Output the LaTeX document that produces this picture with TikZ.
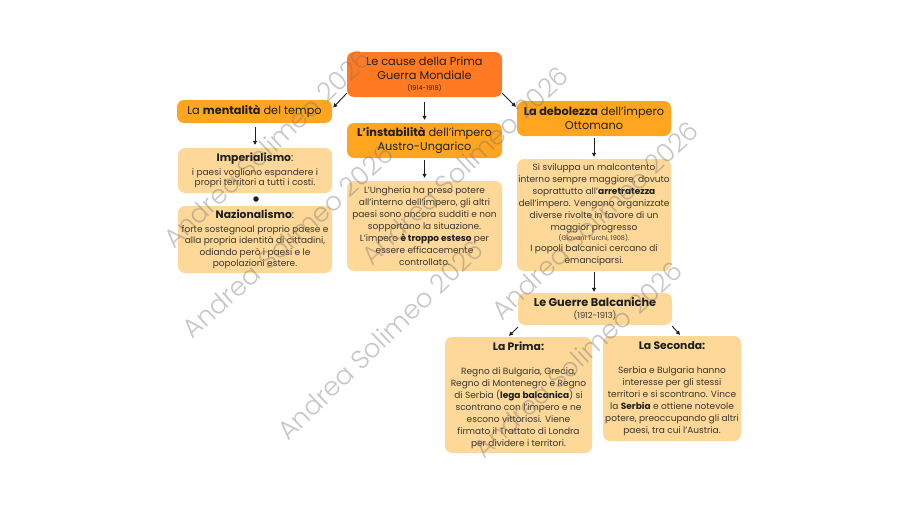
\documentclass[tikz,border=0pt]{standalone}
\usepackage{fontspec}
\setmainfont{Poppins}
\newfontfamily\wmfont{Poppins Light}
\usetikzlibrary{arrows.meta,calc}
\definecolor{orangeT}{HTML}{FF7A22}
\definecolor{amber}{HTML}{FFA51F}
\definecolor{peach}{HTML}{FDD898}
\definecolor{ink}{HTML}{1E1E1E}
\definecolor{bodyc}{HTML}{3A3530}
\begin{document}
\begin{tikzpicture}[x=1pt,y=-1pt,
  box/.style={rounded corners=7pt, inner sep=0pt, align=center, text=ink},
  causebox/.style={box, fill=orangeT, font=\fontsize{11.3}{14}\selectfont},
  lvlbox/.style={box, fill=amber, font=\fontsize{11.3}{14}\selectfont},
  contbox/.style={box, fill=peach, font=\fontsize{9}{12}\selectfont, text=bodyc},
  arr/.style={draw=ink, line width=0.9pt, -{Triangle[length=4pt,width=4pt]}},
  wm/.style={text=black!55, opacity=0.4, font=\wmfont\fontsize{26}{26}\selectfont}
]
\useasboundingbox (0,0) rectangle (900,506);
\fill[white] (0,0) rectangle (900,506);

\newcommand\hdf{\fontsize{10.8}{12}\selectfont}

\node[causebox, minimum width=155pt, minimum height=45pt] (title) at (424.5,74.5)
  {Le cause della Prima\\Guerra Mondiale\\[-3.5pt]{\fontsize{6.5}{6.5}\selectfont (1914-1918)}};
\node[lvlbox, minimum width=155pt, minimum height=23pt] (ment) at (254.5,111.5)
  {La \textbf{mentalità} del tempo};
\node[lvlbox, minimum width=155pt, minimum height=35pt] (inst) at (424.5,140.5)
  {\textbf{L’instabilità} dell’impero\\Austro-Ungarico};
\node[lvlbox, minimum width=154pt, minimum height=35pt] (debo) at (594,118.5)
  {\textbf{La debolezza} dell’impero\\Ottomano};

\node[contbox, minimum width=154pt, minimum height=45pt] (imp) at (255,170.5)
  {{\hdf\textcolor{ink}{\textbf{Imperialismo}:}}\\[2pt]i paesi vogliono espandere i\\[-2pt]propri territori a tutti i costi.};
\node[circle, fill=ink, inner sep=0pt, minimum size=5.5pt] (dot) at (256,199) {};
\node[contbox, minimum width=154pt, minimum height=67pt, font=\fontsize{9}{11.4}\selectfont] (naz) at (255,239.5)
  {{\hdf\textcolor{ink}{\textbf{Nazionalismo}:}}\\[2pt]forte sostegnoal proprio paese e\\alla propria identità di cittadini,\\odiando però i paesi e le\\popolazioni estere.};
\node[contbox, minimum width=155pt, minimum height=90pt] (ung) at (424.5,226)
  {L’Ungheria ha preso potere\\all’interno dell’impero, gli altri\\paesi sono ancora sudditi e non\\sopportano la situazione.\\L’impero \textbf{\textcolor{ink}{è troppo esteso}} per\\essere efficacemente\\controllato.};
\node[contbox, minimum width=154pt, minimum height=112pt] (svil) at (594,215)
  {Si sviluppa un malcontento\\interno sempre maggiore, dovuto\\soprattutto all’\textbf{\textcolor{ink}{arretratezza}}\\dell’impero. Vengono organizzate\\diverse rivolte in favore di un\\maggior progresso\\[-2pt]{\fontsize{6.5}{7}\selectfont (Giovani Turchi, 1908).}\\[-1pt]I popoli balcanici cercano di\\emanciparsi.};
\node[contbox, minimum width=154pt, minimum height=32pt] (guer) at (595,309)
  {{\fontsize{11.3}{12}\selectfont\textcolor{ink}{\textbf{Le Guerre Balcaniche}}}\\[0pt]{\fontsize{8.3}{9}\selectfont (1912-1913)}};
\node[contbox, minimum width=147pt, minimum height=116pt] (prima) at (518.5,395)
  {{\hdf\textcolor{ink}{\textbf{La Prima:}}}\\[12pt]Regno di Bulgaria, Grecia,\\Regno di Montenegro e Regno\\di Serbia (\textbf{\textcolor{ink}{lega balcanica}}) si\\scontrano con l’impero e ne\\escono vittoriosi. Viene\\firmato il Trattato di Londra\\per dividere i territori.};
\node[contbox, minimum width=138pt, minimum height=105pt] (sec) at (672,388.5)
  {{\hdf\textcolor{ink}{\textbf{La Seconda:}}}\\[12pt]Serbia e Bulgaria hanno\\interesse per gli stessi\\territori e si scontrano. Vince\\la \textbf{\textcolor{ink}{Serbia}} e ottiene notevole\\potere, preoccupando gli altri\\paesi, tra cui l’Austria.};

% connectors
\draw[arr] ($(title.south west)+(0,-4)$) -- ($(ment.east)+(1,-4)$);
\draw[arr] ($(title.south)+(0,5)$) -- ($(inst.north)+(0,-3)$);
\draw[arr] ($(title.south east)+(0,-4)$) -- ($(debo.north west)+(-1,6)$);
\draw[arr] ($(ment.south)+(0.5,4)$) -- ($(imp.north)+(0,-3)$);
\draw[arr] ($(inst.south)+(0,2)$) -- ($(ung.north)+(0,-3)$);
\draw[arr] ($(debo.south)+(0,2)$) -- ($(svil.north)+(0,-2)$);
\draw[arr] ($(svil.south)+(0,1)$) -- ($(guer.north)+(-1,-1)$);
\draw[arr] ($(guer.south west)+(0,2)$) -- ($(prima.north)+(-9.5,-1)$);
\draw[arr] ($(guer.south east)+(0,1)$) -- ($(sec.north)+(8,-1)$);

% watermark
\foreach \cx/\cy/\ang in {267/148/43.5, 288/241/42, 465/165/43.5, 380/340/44, 595/220/43.5, 578/359/43}
  \node[wm, rotate=\ang] at (\cx,\cy) {Andrea Solimeo 2026};
\end{tikzpicture}
\end{document}
